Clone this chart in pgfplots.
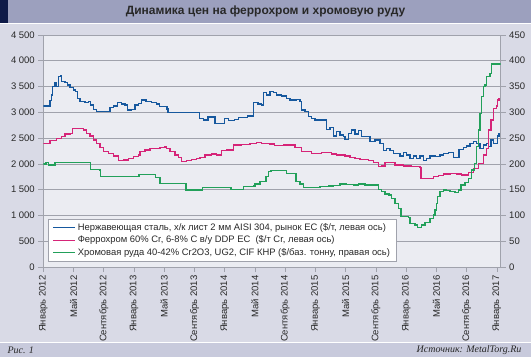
\documentclass[border=0pt]{standalone}
\usepackage{fontspec}
\setmainfont{Liberation Sans}
\newfontfamily\serifit{Liberation Serif}
\usepackage{pgfplots}
\pgfplotsset{compat=1.18}
\definecolor{bgouter}{RGB}{217,218,230}
\definecolor{bgplot}{RGB}{235,236,242}
\definecolor{titlebar}{RGB}{156,160,190}
\definecolor{navy}{RGB}{14,26,72}
\definecolor{bottombar}{RGB}{200,202,220}
\definecolor{cblue}{RGB}{22,88,158}
\definecolor{cmag}{RGB}{214,36,120}
\definecolor{cgreen}{RGB}{34,160,90}
\definecolor{gridc}{RGB}{160,162,172}
\definecolor{txt}{RGB}{40,40,40}
\begin{document}
\begin{tikzpicture}[x=1pt,y=1pt]
\path[use as bounding box] (0pt,0pt) rectangle (531pt,357pt);
\fill[bgouter] (0pt,0pt) rectangle (531pt,357pt);
\fill[titlebar] (0pt,334pt) rectangle (531pt,357pt);
\fill[navy] (0pt,334pt) rectangle (8pt,357pt);
\draw[white, line width=1pt] (0pt,333.5pt) -- (531pt,333.5pt);
\fill[bottombar] (0pt,0pt) rectangle (531pt,14pt);
\draw[white, line width=1pt] (0pt,14.5pt) -- (531pt,14.5pt);
\node[font=\bfseries\fontsize{12}{14}\selectfont, text=txt] at (265.5pt,345.5pt) {Динамика цен на феррохром и хромовую руду};
\node[font=\serifit\itshape\fontsize{10}{12}\selectfont, text=txt, anchor=west] at (4pt,7pt) {Рис. 1};
\node[font=\serifit\itshape\fontsize{10}{12}\selectfont, text=txt, anchor=east] at (525pt,7pt) {Источник: MetalTorg.Ru};

\pgfplotsset{common/.style={
  at={(43.3pt,90pt)}, anchor=south west, scale only axis,
  width=457.4pt, height=232.2pt, xmin=0, xmax=60.5,
  axis line style={gridc, line width=0.6pt},
  tick style={gridc, line width=0.6pt}, major tick length=5pt, tick align=outside,
  ticklabel style={font=\fontsize{9.5}{11}\selectfont, text=txt},
  /pgf/number format/1000 sep={\kern2.6pt},
  /pgf/number format/assume math mode=true,
  every axis plot/.append style={const plot, line width=1.4pt}}}

\begin{axis}[common,
  ymin=0, ymax=4500, ytick={0,500,...,4500}, ytick pos=left, xtick pos=bottom,
  axis background/.style={fill=bgplot},
  ymajorgrids, grid style={gridc, line width=0.6pt},
  xtick={0,4,...,60},
  xticklabels={Январь 2012, Май 2012, Сентябрь 2012, Январь 2013, Май 2013, Сентябрь 2013, Январь 2014, Май 2014, Сентябрь 2014, Январь 2015, Май 2015, Сентябрь 2015, Январь 2016, Май 2016, Сентябрь 2016, Январь 2017},
  xticklabel style={rotate=90, anchor=east},
  legend style={at={(0.0109,0.2054)}, anchor=north west, draw=gridc, fill=white,
    font=\fontsize{9.4}{11}\selectfont, text=txt, inner xsep=4pt, inner ysep=2pt,
    row sep=0pt, cells={anchor=west}},
  legend image code/.code={\draw[#1, line width=1.3pt] (0pt,0pt) -- (22pt,0pt);},
]
\addplot[cblue] coordinates {(0,3120)(0.66,3120)(0.89,3223)(1.11,3333)(1.24,3495)(1.55,3572)(1.77,3495)(1.99,3689)(2.30,3708)(2.43,3592)(2.87,3572)(3.18,3527)(3.53,3482)(3.97,3430)(4.28,3398)(4.50,3269)(4.85,3204)(5.51,3185)(5.96,3204)(6.27,3140)(6.62,3056)(7.06,3010)(8.38,3010)(8.82,3094)(9.26,3120)(9.79,3185)(10.37,3159)(10.81,3140)(11.12,3043)(11.69,3056)(12.13,3140)(12.57,3172)(13.01,3236)(13.58,3204)(14.33,3185)(14.99,3159)(15.35,3110)(16.2,3110)(16.35,3060)(16.5,2990)(20.5,2990)(20.7,2880)(21.2,2850)(21.8,2910)(22.5,2910)(22.7,2785)(23.8,2785)(24.0,2880)(24.5,2836)(25.3,2862)(25.8,2900)(26.7,2900)(27.0,2926)(27.5,2926)(27.8,3185)(28.4,3159)(28.9,3140)(29.1,3378)(29.5,3333)(30.0,3398)(30.43,3378)(30.87,3333)(31.53,3314)(32.19,3269)(32.63,3236)(33.29,3236)(33.51,3249)(33.95,3204)(34.17,3043)(34.61,3010)(35.05,2913)(35.50,2881)(35.93,2849)(37.04,2849)(37.48,2668)(37.92,2707)(38.36,2539)(38.80,2623)(39.24,2558)(39.68,2526)(39.91,2475)(40.35,2590)(40.79,2655)(41.23,2578)(41.67,2642)(42.11,2526)(42.77,2526)(43.21,2429)(43.87,2461)(44.53,2397)(44.98,2255)(45.42,2300)(45.86,2255)(46.30,2203)(47.18,2151)(47.62,2216)(48.06,2171)(48.50,2106)(48.94,2151)(49.39,2106)(49.83,2151)(50.27,2061)(50.71,2106)(51.15,2151)(51.81,2138)(52.47,2171)(52.91,2203)(53.58,2216)(54.24,2125)(54.90,2125)(54.99,2280)(55.56,2319)(56.00,2345)(56.45,2397)(56.89,2429)(57.33,2397)(57.77,2300)(58.21,2364)(58.65,2397)(58.87,2332)(59.22,2461)(59.53,2397)(59.97,2397)(60.10,2539)(60.3,2578)(60.45,2578)};
\addlegendentry{Нержавеющая сталь, х/к лист 2 мм AISI 304, рынок ЕС (\$/т, левая ось)}
\addplot[cmag] coordinates {(0,2397)(0.89,2448)(1.77,2494)(2.43,2526)(2.87,2578)(3.53,2590)(3.84,2688)(4.85,2688)(5.29,2655)(5.73,2590)(6.18,2539)(6.62,2461)(7.06,2397)(7.50,2320)(7.94,2235)(8.60,2203)(9.26,2151)(9.92,2061)(10.59,2074)(11.25,2106)(11.91,2138)(12.57,2171)(12.79,2235)(13.45,2267)(14.11,2300)(14.77,2300)(15.44,2320)(16.10,2332)(16.32,2300)(16.76,2235)(17.42,2171)(17.86,2125)(18.30,2041)(18.96,2061)(19.62,2087)(20.29,2106)(20.73,2125)(21.39,2171)(22.27,2190)(22.93,2171)(23.59,2255)(24.25,2267)(25.14,2364)(26.24,2377)(27.34,2397)(28.23,2416)(28.89,2397)(29.99,2384)(30.56,2352)(31.75,2364)(32.85,2364)(33.29,2319)(34.17,2235)(35.50,2203)(36.82,2216)(38.14,2190)(38.80,2171)(39.91,2151)(40.57,2125)(41.23,2106)(41.89,2087)(42.99,2061)(43.65,2022)(44.31,1944)(44.75,1957)(45.19,2022)(46.52,1977)(47.62,1957)(48.72,1944)(49.83,1932)(49.96,1719)(50.93,1719)(51.59,1750)(52.25,1777)(52.91,1802)(53.80,1815)(54.68,1802)(55.34,1783)(56.22,1828)(56.89,1912)(57.55,2009)(58.21,2171)(58.65,2300)(58.87,2655)(59.22,2849)(59.53,3075)(59.97,3120)(60.10,3236)(60.3,3269)(60.45,3269)};
\addlegendentry{Феррохром 60\% Cr, 6-8\% C в/у DDP ЕС\ \ (\$/т Cr, левая ось)}
\addlegendimage{cgreen}
\addlegendentry{Хромовая руда 40-42\% Cr2O3, UG2, CIF КНР (\$/баз. тонну, правая ось)}
\end{axis}

\begin{axis}[common,
  ymin=0, ymax=450, ytick={0,50,...,450}, axis y line*=right, axis x line=none,
]
\addplot[cgreen] coordinates {(0,199.6)(0.36,202)(0.66,197.7)(1.55,202)(6.27,189.3)(7.50,186.7)(7.59,175)(12.66,179.6)(14.86,173.8)(15.44,162.2)(18.87,149.2)(21.04,154.5)(24.83,150.5)(26.46,155.7)(27.78,157)(28.00,160.9)(28.66,165.4)(29.45,175)(29.77,184.7)(30.12,186.7)(32.19,181.5)(33.43,165.3)(33.95,160.9)(34.39,154.5)(36.60,155.7)(37.70,157)(38.36,158.3)(39.24,160.9)(40.12,159.6)(41.00,158.9)(41.67,160.9)(42.55,158.9)(44.31,150.6)(44.75,146)(45.19,141.5)(45.73,139.5)(46.08,133.1)(46.52,123.4)(46.96,113.7)(47.32,97.5)(48.29,96.3)(48.51,84.7)(49.17,81.4)(49.52,76.9)(50.05,81.4)(50.49,85.9)(51.15,94.3)(51.59,100.8)(51.81,110.5)(52.03,123.4)(52.16,136.2)(52.47,146)(52.91,149.2)(53.35,147.9)(53.80,146)(54.46,144)(54.90,149.2)(55.25,158.9)(55.78,163.4)(56.22,171.9)(56.67,188)(57.02,200.9)(57.33,233.1)(57.55,265.5)(57.77,297.9)(57.99,330)(58.21,349.4)(58.43,352.7)(58.65,368.8)(59.09,375.4)(59.31,393.4)(60.45,394.8)};
\end{axis}
\end{tikzpicture}
\end{document}
